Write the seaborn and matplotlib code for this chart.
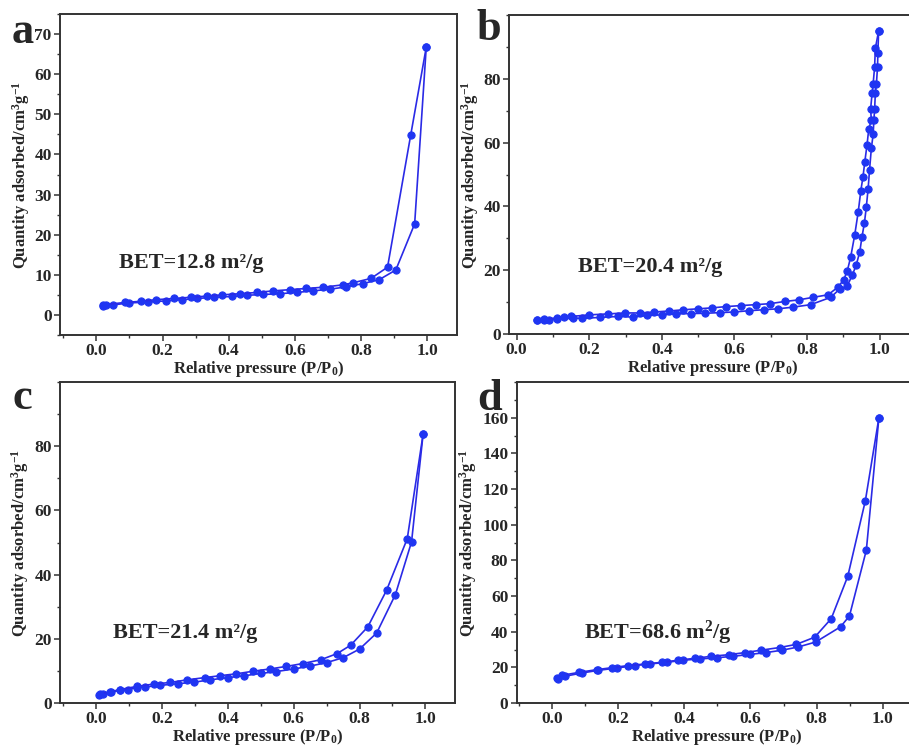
import numpy as np
import pandas as pd
import matplotlib
matplotlib.use("Agg")
import matplotlib.pyplot as plt
from matplotlib.ticker import MultipleLocator, FixedLocator, FormatStrFormatter
import seaborn as sns

# ---- N2 sorption isotherms: adsorption (ads) and desorption (des) branches ----
a_ads_x = [0.02, 0.05, 0.10, 0.155, 0.21, 0.26, 0.305, 0.355, 0.41, 0.455, 0.505,
           0.555, 0.605, 0.655, 0.705, 0.755, 0.805, 0.855, 0.905, 0.962, 0.997]
a_ads_y = [2.3, 2.5, 3.0, 3.2, 3.5, 3.8, 4.1, 4.4, 4.6, 4.9, 5.1,
           5.3, 5.6, 6.0, 6.4, 7.0, 7.8, 8.8, 11.2, 22.7, 66.7]
a_des_x = [0.997, 0.95, 0.88, 0.83, 0.775, 0.745, 0.685, 0.635, 0.585, 0.535, 0.485,
           0.435, 0.38, 0.335, 0.285, 0.235, 0.18, 0.135, 0.085, 0.03, 0.02]
a_des_y = [66.7, 44.8, 11.9, 9.1, 8.0, 7.5, 6.9, 6.6, 6.3, 6.0, 5.6,
           5.3, 5.0, 4.7, 4.4, 4.1, 3.8, 3.4, 3.1, 2.6, 2.5]

b_ads_x = [0.055, 0.076, 0.09, 0.11, 0.154, 0.18, 0.23, 0.28, 0.32, 0.36, 0.40,
           0.44, 0.48, 0.52, 0.56, 0.60, 0.64, 0.68, 0.72, 0.76, 0.81, 0.865,
           0.89, 0.91, 0.925, 0.935, 0.945, 0.951, 0.958, 0.963, 0.968, 0.972,
           0.977, 0.982, 0.984, 0.986, 0.988, 0.991, 0.994, 0.995, 0.997]
b_ads_y = [4.3, 4.5, 4.3, 4.8, 5.0, 4.9, 5.2, 5.5, 5.3, 5.8, 6.0,
           6.3, 6.4, 6.5, 6.7, 6.9, 7.3, 7.6, 7.9, 8.4, 9.2, 11.5,
           14.1, 14.9, 18.6, 21.5, 25.7, 30.3, 34.9, 39.7, 45.4, 51.4,
           58.2, 62.6, 67.0, 70.5, 75.4, 78.5, 83.7, 88.1, 95.0]
b_des_x = [0.997, 0.988, 0.986, 0.982, 0.979, 0.975, 0.977, 0.970, 0.965, 0.959,
           0.954, 0.948, 0.941, 0.931, 0.920, 0.911, 0.901, 0.885, 0.858, 0.817,
           0.777, 0.739, 0.697, 0.658, 0.617, 0.578, 0.539, 0.50, 0.459, 0.419,
           0.379, 0.339, 0.298, 0.252, 0.20, 0.15, 0.13, 0.11, 0.076, 0.055]
b_des_y = [95.0, 89.5, 83.7, 78.5, 75.4, 70.5, 67.0, 64.4, 59.2, 54.0,
           49.3, 44.9, 38.4, 30.9, 24.1, 19.9, 17.0, 14.7, 12.3, 11.5,
           10.7, 10.2, 9.5, 9.2, 8.9, 8.6, 8.2, 7.9, 7.6, 7.2,
           6.9, 6.6, 6.6, 6.3, 6.0, 5.5, 5.3, 5.0, 4.7, 4.3]

c_ads_x = [0.01, 0.02, 0.045, 0.073, 0.098, 0.124, 0.148, 0.195, 0.247, 0.298,
           0.345, 0.40, 0.45, 0.50, 0.547, 0.60, 0.65, 0.70, 0.75, 0.80,
           0.852, 0.909, 0.958, 0.993]
c_ads_y = [2.4, 2.9, 3.4, 3.9, 4.2, 4.8, 5.0, 5.5, 6.0, 6.5,
           7.2, 7.9, 8.5, 9.2, 9.8, 10.6, 11.5, 12.6, 14.1, 16.8,
           21.8, 33.8, 50.2, 83.7]
c_des_x = [0.993, 0.945, 0.882, 0.825, 0.773, 0.732, 0.683, 0.628, 0.578, 0.527,
           0.477, 0.426, 0.376, 0.329, 0.275, 0.225, 0.175, 0.125, 0.073, 0.043, 0.013]
c_des_y = [83.7, 51.2, 35.1, 23.7, 18.0, 15.4, 13.5, 12.3, 11.4, 10.6,
           9.9, 9.1, 8.5, 7.9, 7.2, 6.4, 5.9, 5.2, 4.2, 3.5, 2.9]

d_ads_x = [0.018, 0.04, 0.09, 0.14, 0.196, 0.25, 0.296, 0.347, 0.397, 0.447,
           0.50, 0.548, 0.60, 0.648, 0.695, 0.744, 0.797, 0.872, 0.899, 0.95, 0.988]
d_ads_y = [13.7, 15.0, 16.8, 18.3, 19.6, 21.0, 21.9, 22.8, 24.0, 24.7,
           25.4, 26.2, 27.3, 28.3, 29.6, 31.4, 34.2, 42.7, 48.8, 85.7, 160.0]
d_des_x = [0.988, 0.947, 0.894, 0.844, 0.794, 0.739, 0.688, 0.631, 0.585, 0.535,
           0.482, 0.434, 0.382, 0.332, 0.283, 0.231, 0.181, 0.136, 0.083, 0.03, 0.015]
d_des_y = [160.0, 113.4, 71.1, 47.3, 36.9, 32.9, 31.1, 29.6, 28.3, 27.1,
           26.2, 25.1, 24.0, 22.8, 21.9, 21.0, 19.8, 18.7, 17.2, 15.5, 14.2]

panel_letters = ["a", "b", "c", "d"]
bet_labels = ["BET=12.8 m²/g", "BET=20.4 m²/g", "BET=21.4 m²/g",
              r"BET=68.6 m$^\mathbf{2}$/g"]
x_label = r"Relative pressure (P/P$_\mathbf{0}$)"
y_label = r"Quantity adsorbed/cm$^\mathbf{3}$g$^\mathbf{-1}$"

sns.set_theme(style="white")
plt.rcParams["font.family"] = ["Liberation Serif", "DejaVu Serif"]
plt.rcParams["font.weight"] = "bold"
plt.rcParams["mathtext.fontset"] = "custom"
plt.rcParams["mathtext.rm"] = "Liberation Serif:bold"
plt.rcParams["mathtext.bf"] = "Liberation Serif:bold"
plt.rcParams["mathtext.it"] = "Liberation Serif:bold:italic"

W, H = 909, 749
fig = plt.figure(figsize=(W / 100, H / 100), dpi=100)


def box(l, t, r, b):
    return [l / W, 1 - b / H, (r - l) / W, (b - t) / H]


panels = [
    dict(rect=box(60, 14, 457, 335), xlim=(-0.11, 1.09), ylim=(-5, 75),
         yticks=np.arange(0, 71, 10), minor=5,
         ads=(a_ads_x, a_ads_y), des=(a_des_x, a_des_y),
         letter_xy=(12, 43), bet_xy=(119, 263)),
    dict(rect=box(509.4, 15, 916, 334), xlim=(-0.02, 1.1), ylim=(0, 100),
         yticks=np.arange(0, 81, 20), minor=10,
         ads=(b_ads_x, b_ads_y), des=(b_des_x, b_des_y),
         letter_xy=(476, 40), bet_xy=(578, 267)),
    dict(rect=box(60, 382, 455, 703), xlim=(-0.11, 1.09), ylim=(0, 100),
         yticks=np.arange(0, 81, 20), minor=10,
         ads=(c_ads_x, c_ads_y), des=(c_des_x, c_des_y),
         letter_xy=(13, 409), bet_xy=(113, 633)),
    dict(rect=box(516.7, 382, 916, 703), xlim=(-0.106, 1.1), ylim=(0, 180),
         yticks=np.arange(0, 161, 20), minor=10,
         ads=(d_ads_x, d_ads_y), des=(d_des_x, d_des_y),
         letter_xy=(477, 410), bet_xy=(584, 633)),
]

line_color = "#2a2ae6"
marker_color = "#1f35f2"

for i, p in enumerate(panels):
    ax = fig.add_axes(p["rect"])
    for branch in ("ads", "des"):
        xs, ys = p[branch]
        df = pd.DataFrame({"P": xs, "Q": ys})
        sns.lineplot(data=df, x="P", y="Q", ax=ax, sort=False, estimator=None,
                     color=line_color, lw=1.2, marker="o", markersize=5.2,
                     markerfacecolor=marker_color, markeredgecolor=marker_color,
                     clip_on=False)
    ax.set_xlim(*p["xlim"])
    ax.set_ylim(*p["ylim"])
    ax.xaxis.set_major_locator(MultipleLocator(0.2))
    ax.xaxis.set_minor_locator(MultipleLocator(0.1))
    ax.yaxis.set_major_locator(FixedLocator(p["yticks"]))
    ax.yaxis.set_minor_locator(MultipleLocator(p["minor"]))
    ax.xaxis.set_major_formatter(FormatStrFormatter("%.1f"))
    ax.yaxis.set_major_formatter(FormatStrFormatter("%d"))
    ax.tick_params(which="major", direction="out", length=4, width=1.1,
                   labelsize=12.5, bottom=True, left=True, top=False, right=False,
                   pad=2, color="#333333")
    ax.tick_params(which="minor", direction="out", length=2.5, width=1.0,
                   bottom=True, left=True, top=False, right=False, color="#333333")
    for lab in ax.get_xticklabels() + ax.get_yticklabels():
        lab.set_fontweight("bold")
    for s in ax.spines.values():
        s.set_visible(True)
        s.set_color("#333333")
        s.set_linewidth(1.4)
    ax.set_xlabel(x_label, fontsize=12, fontweight="bold", labelpad=0)
    ax.set_ylabel(y_label, fontsize=12, fontweight="bold", labelpad=2)
    ax.patch.set_alpha(0)

    lx, ly = p["letter_xy"]
    fig.text(lx / W, 1 - ly / H, panel_letters[i], fontsize=32, fontweight="bold",
             ha="left", va="baseline")
    bx, by = p["bet_xy"]
    fig.text(bx / W, 1 - by / H, bet_labels[i], fontsize=16, fontweight="bold",
             ha="left", va="center")

fig.savefig("out.png", dpi=100)
